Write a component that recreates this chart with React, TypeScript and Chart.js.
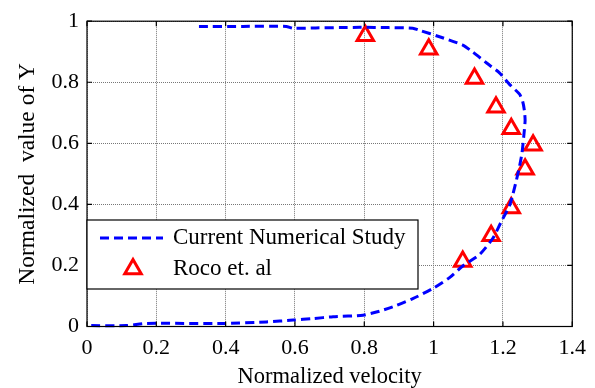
import React, { useEffect, useRef } from "react";
import { Chart, registerables } from "chart.js";

Chart.register(...registerables);

const curveX = [0.323, 0.45, 0.575, 0.594, 0.66, 0.729, 0.787, 0.87, 0.94, 0.96, 1.017, 1.084, 1.112, 1.153, 1.19, 1.219, 1.248, 1.257, 1.262, 1.264, 1.26, 1.255, 1.248, 1.239, 1.228, 1.219, 1.195, 1.171, 1.133, 1.084, 1.046, 1.0, 0.94, 0.893, 0.844, 0.796, 0.71, 0.652, 0.595, 0.518, 0.393, 0.172, 0.114, 0.0];
const curveY = [0.983, 0.983, 0.983, 0.977, 0.978, 0.979, 0.98, 0.979, 0.977, 0.97, 0.949, 0.922, 0.9, 0.863, 0.831, 0.793, 0.761, 0.737, 0.707, 0.675, 0.622, 0.568, 0.525, 0.48, 0.43, 0.396, 0.343, 0.289, 0.236, 0.198, 0.16, 0.126, 0.091, 0.069, 0.05, 0.037, 0.032, 0.026, 0.021, 0.015, 0.01, 0.01, 0.003, 0.003];

const rocoX = [0.803, 0.986, 1.118, 1.18, 1.224, 1.287, 1.264, 1.224, 1.166, 1.084];
const rocoY = [0.952, 0.908, 0.812, 0.718, 0.648, 0.594, 0.515, 0.388, 0.297, 0.213];

const xTicks = [0, 0.2, 0.4, 0.6, 0.8, 1, 1.2, 1.4];
const yTicks = [0, 0.2, 0.4, 0.6, 0.8, 1];

const seriesLabels = ["Current Numerical Study", "Roco et. al"];
const xTitle = "Normalized velocity";
const yTitle = "Normalized  value of Y";

const FONT = "'Liberation Serif', 'Times New Roman', serif";

function fmt(v: number) {
  return String(Number(v.toFixed(1)));
}

const framePlugin = {
  id: "frame",
  afterDraw(chart: any) {
    const ctx = chart.ctx;
    const { left, right, top, bottom } = chart.chartArea;
    const xs = chart.scales.x;
    const ys = chart.scales.y;
    ctx.save();
    ctx.strokeStyle = "#000";
    ctx.lineWidth = 1.2;
    ctx.setLineDash([]);
    ctx.strokeRect(left, top, right - left, bottom - top);
    const tl = 5;
    ctx.beginPath();
    xTicks.forEach((v) => {
      const px = xs.getPixelForValue(v);
      ctx.moveTo(px, bottom);
      ctx.lineTo(px, bottom - tl);
      ctx.moveTo(px, top);
      ctx.lineTo(px, top + tl);
    });
    yTicks.forEach((v) => {
      const py = ys.getPixelForValue(v);
      ctx.moveTo(left, py);
      ctx.lineTo(left + tl, py);
      ctx.moveTo(right, py);
      ctx.lineTo(right - tl, py);
    });
    ctx.stroke();

    // legend
    const lx = left;
    const ly = 220;
    const lw = 331;
    const lh = 69;
    ctx.fillStyle = "#fff";
    ctx.fillRect(lx, ly, lw, lh);
    ctx.strokeStyle = "#000";
    ctx.lineWidth = 1.2;
    ctx.strokeRect(lx, ly, lw, lh);

    ctx.strokeStyle = "#0000ff";
    ctx.lineWidth = 3;
    ctx.setLineDash([9, 5]);
    ctx.beginPath();
    ctx.moveTo(lx + 13, ly + 18);
    ctx.lineTo(lx + 76, ly + 18);
    ctx.stroke();
    ctx.setLineDash([]);

    const tx = lx + 46;
    const ty = ly + 49;
    const r = 9.5;
    ctx.strokeStyle = "#ff0000";
    ctx.lineWidth = 3;
    ctx.beginPath();
    ctx.moveTo(tx, ty - r);
    ctx.lineTo(tx + r * Math.sin((2 * Math.PI) / 3), ty - r * Math.cos((2 * Math.PI) / 3));
    ctx.lineTo(tx + r * Math.sin((4 * Math.PI) / 3), ty - r * Math.cos((4 * Math.PI) / 3));
    ctx.closePath();
    ctx.stroke();

    ctx.fillStyle = "#000";
    ctx.font = `23px ${FONT}`;
    ctx.textBaseline = "middle";
    ctx.textAlign = "left";
    ctx.fillText(seriesLabels[0], lx + 86, ly + 18);
    ctx.fillText(seriesLabels[1], lx + 86, ly + 49);
    ctx.restore();
  },
};

export default function App() {
  const ref = useRef<HTMLCanvasElement | null>(null);
  useEffect(() => {
    document.body.style.margin = "0";
    const canvas = ref.current;
    if (!canvas) return;
    const chart = new Chart(canvas, {
      type: "scatter",
      data: {
        datasets: [
          {
            label: seriesLabels[0],
            data: curveX.map((x, i) => ({ x, y: curveY[i] })),
            showLine: true,
            borderColor: "#0000ff",
            borderWidth: 3,
            borderDash: [9, 5],
            pointRadius: 0,
            tension: 0.2,
            clip: false,
          } as any,
          {
            label: seriesLabels[1],
            data: rocoX.map((x, i) => ({ x, y: rocoY[i] })),
            showLine: false,
            pointStyle: "triangle",
            pointRadius: 9.5,
            pointBorderWidth: 3,
            borderColor: "#ff0000",
            pointBorderColor: "#ff0000",
            backgroundColor: "rgba(0,0,0,0)",
            pointBackgroundColor: "rgba(0,0,0,0)",
            clip: false,
          } as any,
        ],
      },
      options: {
        responsive: false,
        animation: false,
        devicePixelRatio: 1,
        layout: { padding: { top: 16, right: 22, bottom: 0, left: 0 } },
        plugins: {
          legend: { display: false },
          tooltip: { enabled: false },
        },
        scales: {
          x: {
            type: "linear",
            min: 0,
            max: 1.4,
            afterFit: (s: any) => {
              s.height = 61.5;
            },
            afterBuildTicks: (s: any) => {
              s.ticks = xTicks.map((v) => ({ value: v }));
            },
            ticks: {
              callback: (v: any) => fmt(Number(v)),
              color: "#000",
              font: { family: FONT, size: 22 },
              padding: 9,
              maxRotation: 0,
              autoSkip: false,
            },
            grid: { color: "#777777", lineWidth: 1, drawTicks: false },
            border: { display: false, dash: [1, 1] },
            title: {
              display: true,
              text: xTitle,
              color: "#000",
              font: { family: FONT, size: 22.5 },
              padding: { top: 0, bottom: -3 },
            },
          },
          y: {
            type: "linear",
            min: 0,
            max: 1,
            afterFit: (s: any) => {
              s.width = 87;
            },
            afterBuildTicks: (s: any) => {
              s.ticks = yTicks.map((v) => ({ value: v }));
            },
            ticks: {
              callback: (v: any) => fmt(Number(v)),
              color: "#000",
              font: { family: FONT, size: 22 },
              padding: 8,
              autoSkip: false,
            },
            grid: { color: "#777777", lineWidth: 1, drawTicks: false },
            border: { display: false, dash: [1, 1] },
            title: {
              display: true,
              text: yTitle,
              color: "#000",
              font: { family: FONT, size: 23.5 },
              padding: { top: 14, bottom: 0 },
            },
          },
        },
      },
      plugins: [framePlugin],
    });
    return () => chart.destroy();
  }, []);
  return (
    <div style={{ position: "absolute", left: 0, top: 0, width: 595, height: 388, background: "#fff" }}>
      <canvas ref={ref} width={595} height={388} style={{ width: 595, height: 388 }} />
    </div>
  );
}
